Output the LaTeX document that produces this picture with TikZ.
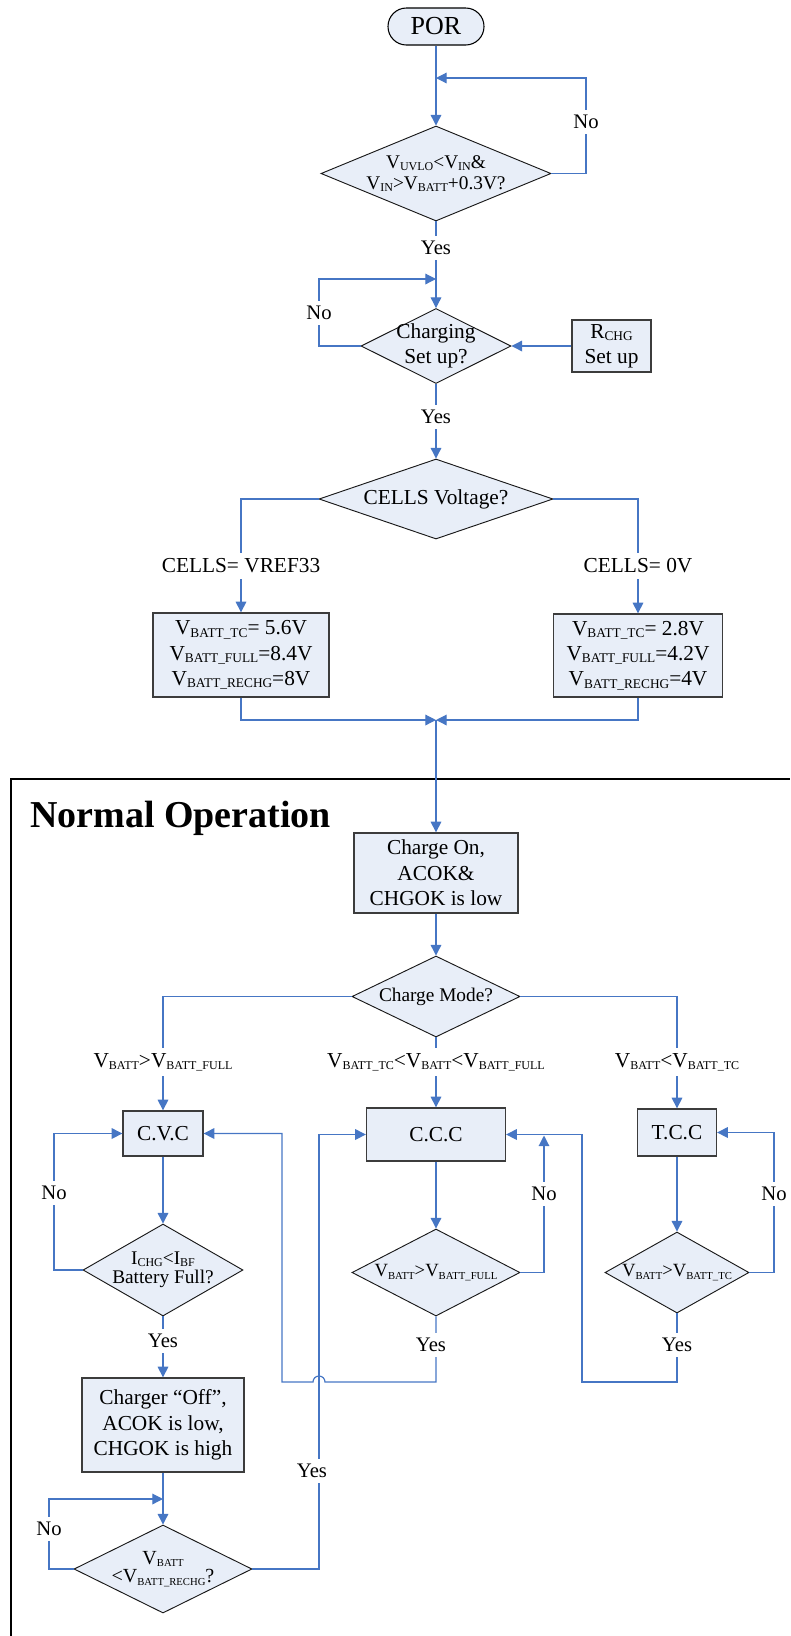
\documentclass[tikz,border=0pt]{standalone}
\usepackage{fontspec}
\setmainfont{Liberation Serif}
\usepackage{graphicx}
\usetikzlibrary{shapes.geometric,arrows.meta}
\definecolor{conn}{RGB}{70,118,196}
\definecolor{nfill}{RGB}{232,238,248}
\definecolor{nborder}{RGB}{60,60,60}
\newcommand\dn[2][10]{\raisebox{-1.8pt}{\fontsize{#1pt}{#1pt}\selectfont #2}}
\begin{document}
\begin{tikzpicture}[x=0.75pt,y=-0.75pt,
  box/.style={draw=nborder,line width=1pt,fill=nfill,inner sep=0pt,align=center,font=\fontsize{16pt}{19pt}\selectfont},
  porbox/.style={draw=black,line width=0.8pt,fill=nfill,rounded corners=13.8pt,inner sep=0pt,font=\fontsize{19.5pt}{22pt}\selectfont},
  dia/.style={diamond,draw=black!90,line width=0.7pt,fill=nfill,inner sep=0pt,aspect=1},
  dtxt/.style={align=center,inner sep=0pt},
  lab/.style={fill=white,inner xsep=1.5pt,inner ysep=4pt,font=\fontsize{15.5pt}{18pt}\selectfont},
  arr/.style={draw=conn,line width=0.9pt,-{Triangle[length=8pt,width=8pt]}},
  frame/.style={draw=black,line width=2pt}
]
\useasboundingbox (0,0) rectangle (790,1636);

% frame
\draw[frame] (11,1636) -- (11,779) -- (790,779);
\node[anchor=base west,inner sep=0pt,font=\fontsize{28.5pt}{30pt}\selectfont\bfseries] (nop) at (30,827) {Normal Operation};

% nodes
\node[porbox,minimum width=72pt,minimum height=27.75pt] (por) at (436,26.5) {POR};
\node[dia,minimum width=172.5pt,minimum height=71.25pt] (d1) at (436,173.5) {};
\node[dtxt,font=\fontsize{14.5pt}{16pt}\selectfont] (t1) at (d1) {V\dn[9]{UVLO}<V\dn[9]{IN}\&\\V\dn[9]{IN}>V\dn[9]{BATT}+0.3V?};
\node[dia,minimum width=112.5pt,minimum height=56.25pt] (d2) at (436,346) {};
\node[dtxt,font=\fontsize{16pt}{18.75pt}\selectfont] (t2) at (d2) {Charging\\Set up?};
\node[box,minimum width=59.25pt,minimum height=39pt] (rchg) at (611.5,346) {R\dn{CHG}\\Set up};
\node[dia,minimum width=175.5pt,minimum height=60pt] (d3) at (436,499) {};
\node[dtxt,font=\fontsize{16pt}{19pt}\selectfont] (t3) at (d3) {CELLS Voltage?};
\node[box,minimum width=132pt,minimum height=63pt] (bl) at (241,655) {V\dn{BATT\_TC}= 5.6V\\V\dn{BATT\_FULL}=8.4V\\V\dn{BATT\_RECHG}=8V};
\node[box,minimum width=126.75pt,minimum height=62.25pt] (br) at (638,655.5) {V\dn{BATT\_TC}= 2.8V\\V\dn{BATT\_FULL}=4.2V\\V\dn{BATT\_RECHG}=4V};
\node[box,minimum width=123pt,minimum height=60pt] (con) at (436,873) {Charge On,\\ACOK\&\\CHGOK is low};
\node[dia,minimum width=126pt,minimum height=60.75pt] (dm) at (436,996.5) {};
\node[dtxt,font=\fontsize{14.5pt}{17pt}\selectfont] (tm) at (dm) {Charge Mode?};
\node[box,minimum width=60pt,minimum height=33.75pt] (cvc) at (163,1133.5) {C.V.C};
\node[box,minimum width=104.25pt,minimum height=39.75pt] (ccc) at (436,1134.5) {C.C.C};
\node[box,minimum width=59.25pt,minimum height=35.25pt] (tcc) at (677,1132.5) {T.C.C};
\node[dia,minimum width=120pt,minimum height=69pt] (dcvc) at (163,1270) {};
\node[dtxt,font=\fontsize{14.5pt}{14.5pt}\selectfont] (tcv) at (dcvc) {I\dn[9]{CHG}<I\dn[9]{BF}\\Battery Full?};
\node[dia,minimum width=126pt,minimum height=65.25pt] (dccc) at (436,1272.5) {};
\node[dtxt,font=\fontsize{14pt}{16pt}\selectfont] (tcc2) at (dccc) {V\dn[8]{BATT}>V\dn[8]{BATT\_FULL}};
\node[dia,minimum width=108pt,minimum height=60.75pt] (dtcc) at (677,1272.5) {};
\node[dtxt,font=\fontsize{14pt}{16pt}\selectfont] (ttc2) at (dtcc) {V\dn[8]{BATT}>V\dn[8]{BATT\_TC}};
\node[box,minimum width=121.5pt,minimum height=70.5pt] (off) at (163,1425) {Charger “Off”,\\ACOK is low,\\CHGOK is high};
\node[dia,minimum width=133.5pt,minimum height=66pt] (dr) at (163,1569) {};
\node[dtxt,font=\fontsize{15pt}{13.8pt}\selectfont] (tdr) at (dr) {V\dn[8]{BATT}\\<V\dn[8]{BATT\_RECHG}?};

% joints
\coordinate (j1) at (436,78);   \coordinate (c1) at (586,78);
\coordinate (j2) at (436,279);  \coordinate (c2) at (319,279);
\coordinate (m)  at (436,720);
\coordinate (cl) at (54,1133.5);
\coordinate (y1) at (319,1134.5);
\coordinate (nccc) at (544,1135.5);
\coordinate (hr) at (325,1382); \coordinate (h2) at (282,1382);
\coordinate (t1c) at (582,1382);
\coordinate (tl) at (774,1132.5);
\coordinate (rl) at (49,1499);  \coordinate (rj) at (163,1499);

% connectors
\draw[arr] (por.south) -- (d1.north);
\draw[arr] (d1.east) -| (c1) -- (j1);
\draw[arr] (d1.south) -- (d2.north);
\draw[arr] (d2.west) -| (c2) -- (j2);
\draw[arr] (rchg.west) -- (d2.east);
\draw[arr] (d2.south) -- (d3.north);
\draw[arr] (d3.west) -| (bl.north);
\draw[arr] (d3.east) -| (br.north);
\draw[arr] (bl.south) |- (m);
\draw[arr] (br.south) |- (m);
\draw[arr] (m) -- (con.north);
\draw[arr] (con.south) -- (dm.north);
\draw[arr] (dm.west) -| (cvc.north);
\draw[arr] (dm.south) -- (ccc.north);
\draw[arr] (dm.east) -| (tcc.north);
\draw[arr] (cvc.south) -- (dcvc.north);
\draw[arr] (dcvc.west) -| (cl) -- (cvc.west);
\draw[arr] (dcvc.south) -- (off.north);
\draw[arr] (off.south) -- (dr.north);
\draw[arr] (dr.west) -| (rl) -- (rj);
\draw[arr] (dr.east) -| (y1) -- (ccc.west);
\draw[arr] (ccc.south) -- (dccc.north);
\draw[arr] (dccc.east) -| (nccc);
\draw[arr] (dccc.south) |- (hr) arc[start angle=0,end angle=180,radius=4.5pt] -- (h2) |- (cvc.east);
\draw[arr] (tcc.south) -- (dtcc.north);
\draw[arr] (dtcc.south) |- (t1c) |- (ccc.east);
\draw[arr] (dtcc.east) -| (tl) -- (tcc.east);

% labels
\node[lab] (n1) at (586,122) {No};
\node[lab] (ya) at (436,248) {Yes};
\node[lab] (n2) at (319,313) {No};
\node[lab] (yb) at (436,417) {Yes};
\node[lab,font=\fontsize{16pt}{18pt}\selectfont] (cla) at (241,566) {CELLS= VREF33};
\node[lab,font=\fontsize{16pt}{18pt}\selectfont] (clb) at (638,566) {CELLS= 0V};
\node[lab,font=\fontsize{16pt}{18pt}\selectfont] (bla) at (163,1062) {V\dn[9]{BATT}>V\dn[9]{BATT\_FULL}};
\node[lab,font=\fontsize{16pt}{18pt}\selectfont] (blb) at (436,1062) {V\dn[9]{BATT\_TC}<V\dn[9]{BATT}<V\dn[9]{BATT\_FULL}};
\node[lab,font=\fontsize{16pt}{18pt}\selectfont] (blc) at (677,1062) {V\dn[9]{BATT}<V\dn[9]{BATT\_TC}};
\node[lab] (n3) at (54,1193) {No};
\node[lab] (yc) at (163,1341) {Yes};
\node[lab] (n4) at (544,1194) {No};
\node[lab] (yd) at (431,1345) {Yes};
\node[lab] (n5) at (774,1194) {No};
\node[lab] (ye) at (677,1345) {Yes};
\node[lab] (yf) at (312,1471) {Yes};
\node[lab] (n6) at (49,1529) {No};
\end{tikzpicture}
\end{document}
